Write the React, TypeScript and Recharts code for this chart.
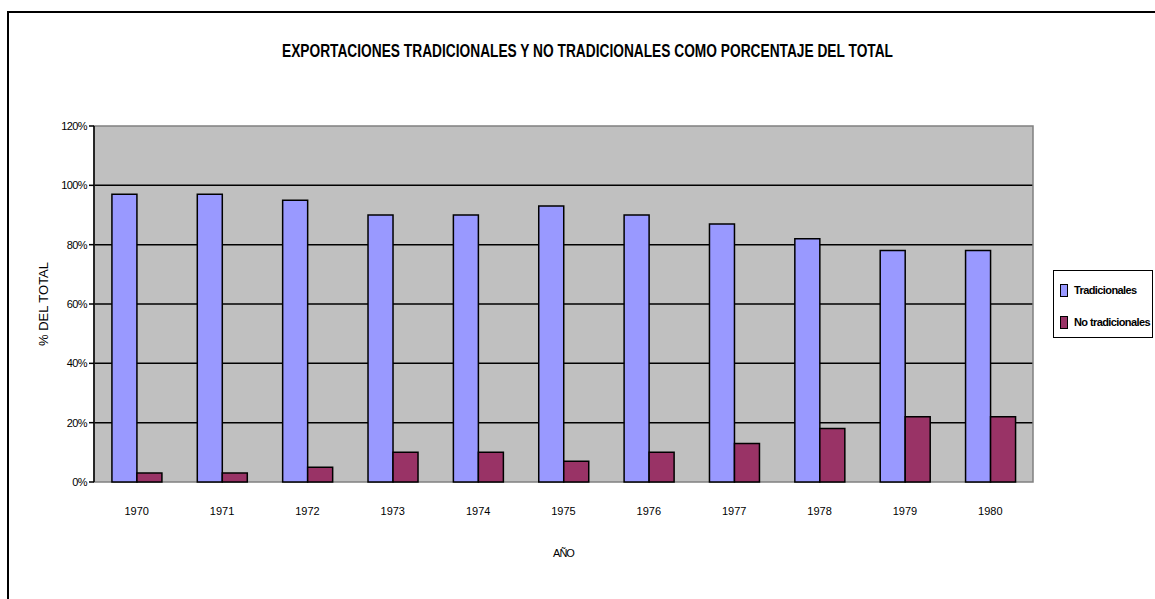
import React from 'react'
import {
  BarChart,
  Bar,
  XAxis,
  YAxis,
  CartesianGrid,
  ReferenceArea,
  Legend,
  Label,
} from 'recharts'

// export shares by year, in percent of the total
const years = ['1970', '1971', '1972', '1973', '1974', '1975', '1976', '1977', '1978', '1979', '1980']
const tradicionales = [97, 97, 95, 90, 90, 93, 90, 87, 82, 78, 78]
const noTradicionales = [3, 3, 5, 10, 10, 7, 10, 13, 18, 22, 22]
const seriesNames = ['Tradicionales', 'No tradicionales']
const yTicks = [0, 20, 40, 60, 80, 100, 120]

const data = years.map((year, i) => ({
  year,
  tradicionales: tradicionales[i],
  noTradicionales: noTradicionales[i],
}))

// tick marks sit on the category boundaries, not the centres
const edgeTicks = [...years.map((_, i) => i), years.length]

const FONT = 'Arial, "Liberation Sans", Helvetica, sans-serif'

const CHART_W = 1155
const CHART_H = 599

type LegendItem = { value?: string; color?: string }

const LegendBox = (props: { payload?: LegendItem[] }) => {
  // keep series order instead of the alphabetical default
  const items = [...(props.payload || [])].sort(
    (a, b) => seriesNames.indexOf(a.value || '') - seriesNames.indexOf(b.value || '')
  )
  return (
    <div
      style={{
        width: 100,
        height: 68,
        boxSizing: 'border-box',
        border: '1px solid #000',
        background: '#fff',
        paddingTop: 11,
        paddingLeft: 6,
        fontFamily: FONT,
      }}
    >
      {items.map((item) => (
        <div
          key={item.value}
          style={{ display: 'flex', alignItems: 'center', height: 16, marginBottom: 16 }}
        >
          <span
            style={{
              display: 'inline-block',
              width: 6,
              height: 11,
              background: item.color,
              border: '1px solid #000',
              marginRight: 6,
            }}
          />
          <span style={{ fontSize: 11, fontWeight: 'bold', letterSpacing: -0.6, color: '#000' }}>
            {item.value}
          </span>
        </div>
      ))}
    </div>
  )
}

export default function App() {
  return (
    <div
      style={{
        position: 'fixed',
        left: 0,
        top: 0,
        width: CHART_W,
        height: CHART_H,
        overflow: 'hidden',
        background: '#fff',
      }}
    >
      {/* outer chart frame */}
      <div
        style={{
          position: 'absolute',
          left: 7,
          top: 11,
          width: 1300,
          height: 700,
          border: '2px solid #000',
        }}
      />
      <svg
        width={CHART_W}
        height={80}
        style={{ position: 'absolute', left: 0, top: 0 }}
      >
        <text
          x={282}
          y={57}
          textLength={611}
          lengthAdjust="spacingAndGlyphs"
          fontFamily={FONT}
          fontWeight="bold"
          fontSize={18}
          fill="#000"
        >
          EXPORTACIONES TRADICIONALES Y NO TRADICIONALES COMO PORCENTAJE DEL TOTAL
        </text>
      </svg>
      <div style={{ position: 'absolute', left: 0, top: 0 }}>
        <BarChart
          width={CHART_W}
          height={CHART_H}
          data={data}
          margin={{ top: 126, right: 122, bottom: 42, left: 34 }}
          barCategoryGap="21%"
          barGap={0}
        >
          <CartesianGrid
            xAxisId="cat"
            vertical={false}
            horizontalValues={[20, 40, 60, 80, 100]}
            stroke="#000"
            strokeWidth={1.5}
            fill="#C0C0C0"
            fillOpacity={1}
          />
          <ReferenceArea
            xAxisId="cat"
            y1={0}
            y2={120}
            fill="none"
            stroke="#808080"
            strokeWidth={1.5}
            ifOverflow="visible"
          />
          <XAxis
            xAxisId="edge"
            type="number"
            domain={[0, years.length]}
            ticks={edgeTicks}
            tick={false}
            height={0}
            tickSize={5}
            axisLine={{ stroke: '#000', strokeWidth: 1.5 }}
            tickLine={{ stroke: '#000', strokeWidth: 1.5 }}
          />
          <XAxis
            xAxisId="cat"
            dataKey="year"
            height={75}
            axisLine={false}
            tickLine={false}
            tickSize={6}
            tickMargin={19}
            tick={{ fill: '#000', fontSize: 11, fontFamily: FONT }}
            interval={0}
          >
            <Label
              value="AÑO"
              position="insideBottom"
              offset={0}
              style={{ fill: '#000', fontSize: 11, fontFamily: FONT, letterSpacing: -1 }}
            />
          </XAxis>
          <YAxis
            width={60}
            domain={[0, 120]}
            ticks={yTicks}
            tickFormatter={(v: number) => `${v}%`}
            tick={{ fill: '#000', fontSize: 11, fontFamily: FONT, letterSpacing: -0.6 }}
            tickSize={5}
            tickMargin={2}
            axisLine={{ stroke: '#000', strokeWidth: 1.5 }}
            tickLine={{ stroke: '#000', strokeWidth: 1.5 }}
          >
            <Label
              value="% DEL TOTAL"
              angle={-90}
              position="insideLeft"
              offset={9}
              style={{ fill: '#000', fontSize: 13, fontFamily: FONT, textAnchor: 'middle' }}
            />
          </YAxis>
          <Legend
            layout="vertical"
            align="center"
            verticalAlign="middle"
            wrapperStyle={{ left: 1053, top: 270, width: 100, height: 68 }}
            content={<LegendBox />}
          />
          <Bar
            xAxisId="cat"
            dataKey="tradicionales"
            name={seriesNames[0]}
            fill="#9999FF"
            stroke="#000"
            strokeWidth={1.5}
            isAnimationActive={false}
          />
          <Bar
            xAxisId="cat"
            dataKey="noTradicionales"
            name={seriesNames[1]}
            fill="#993366"
            stroke="#000"
            strokeWidth={1.5}
            isAnimationActive={false}
          />
        </BarChart>
      </div>
    </div>
  )
}
